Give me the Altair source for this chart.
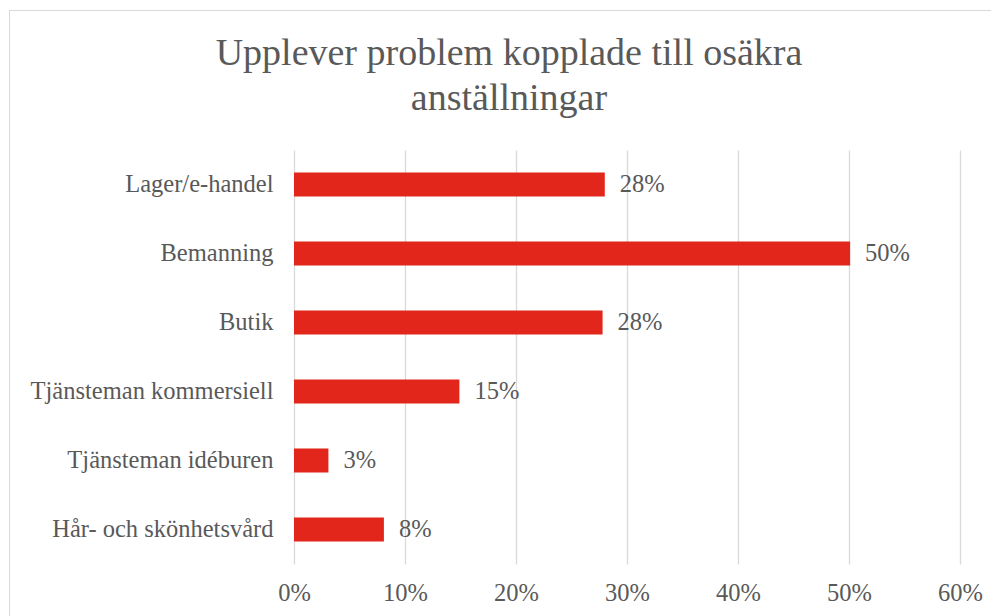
import altair as alt
import pandas as pd

categories = ["Lager/e-handel", "Bemanning", "Butik", "Tjänsteman kommersiell",
              "Tjänsteman idéburen", "Hår- och skönhetsvård"]
values = [0.280, 0.501, 0.278, 0.149, 0.031, 0.081]
x_ticks = [0, 0.1, 0.2, 0.3, 0.4, 0.5, 0.6]

df = pd.DataFrame({"cat": categories, "val": values})

FONT = "Liberation Serif"
GREY = "#595959"

W, H = 666, 414
PL, PT, PR, PB = 286, 142, 31, 52

frame = alt.Chart(df).mark_rect(
    fillOpacity=0, stroke="#d9d9d9", strokeWidth=1
).encode(
    x=alt.value(-284.5), x2=alt.value(W + PR + 20),
    y=alt.value(-139.5), y2=alt.value(H + PB + 20)
)

base = alt.Chart(df).encode(
    y=alt.Y("cat:N", sort=categories, title=None,
            scale=alt.Scale(paddingInner=0.65, paddingOuter=0.325),
            axis=alt.Axis(labelFont=FONT, labelFontSize=24.5, labelColor=GREY,
                          labelPadding=21, labelLimit=0, ticks=False,
                          domain=False, grid=False)),
    x=alt.X("val:Q", title=None,
            scale=alt.Scale(domain=[0, 0.6], nice=False),
            axis=alt.Axis(values=x_ticks, format=".0%", labelFont=FONT,
                          labelFontSize=24.5, labelColor=GREY, labelPadding=17,
                          labelFlush=False, ticks=False, domain=False, grid=True,
                          gridColor="#d9d9d9", gridWidth=1.3)),
)

bars = base.mark_bar(color="#E2261B")
labels = base.mark_text(align="left", baseline="middle", dx=15, font=FONT,
                        fontSize=24.5, color=GREY).encode(
    text=alt.Text("val:Q", format=".0%"))

chart = alt.layer(frame, bars, labels).properties(
    width=W, height=H,
    autosize=alt.AutoSizeParams(type="none"),
    padding={"left": PL, "top": PT, "right": PR, "bottom": PB},
    title=alt.TitleParams(
        ["Upplever problem kopplade till osäkra", "anställningar"],
        font=FONT, fontSize=38, fontWeight="normal", color=GREY,
        anchor="middle", frame="group", dx=-118, offset=-108, lineHeight=45),
).configure_view(stroke=None)

chart.save("out.html", embed_options={"renderer": "svg", "actions": False})
